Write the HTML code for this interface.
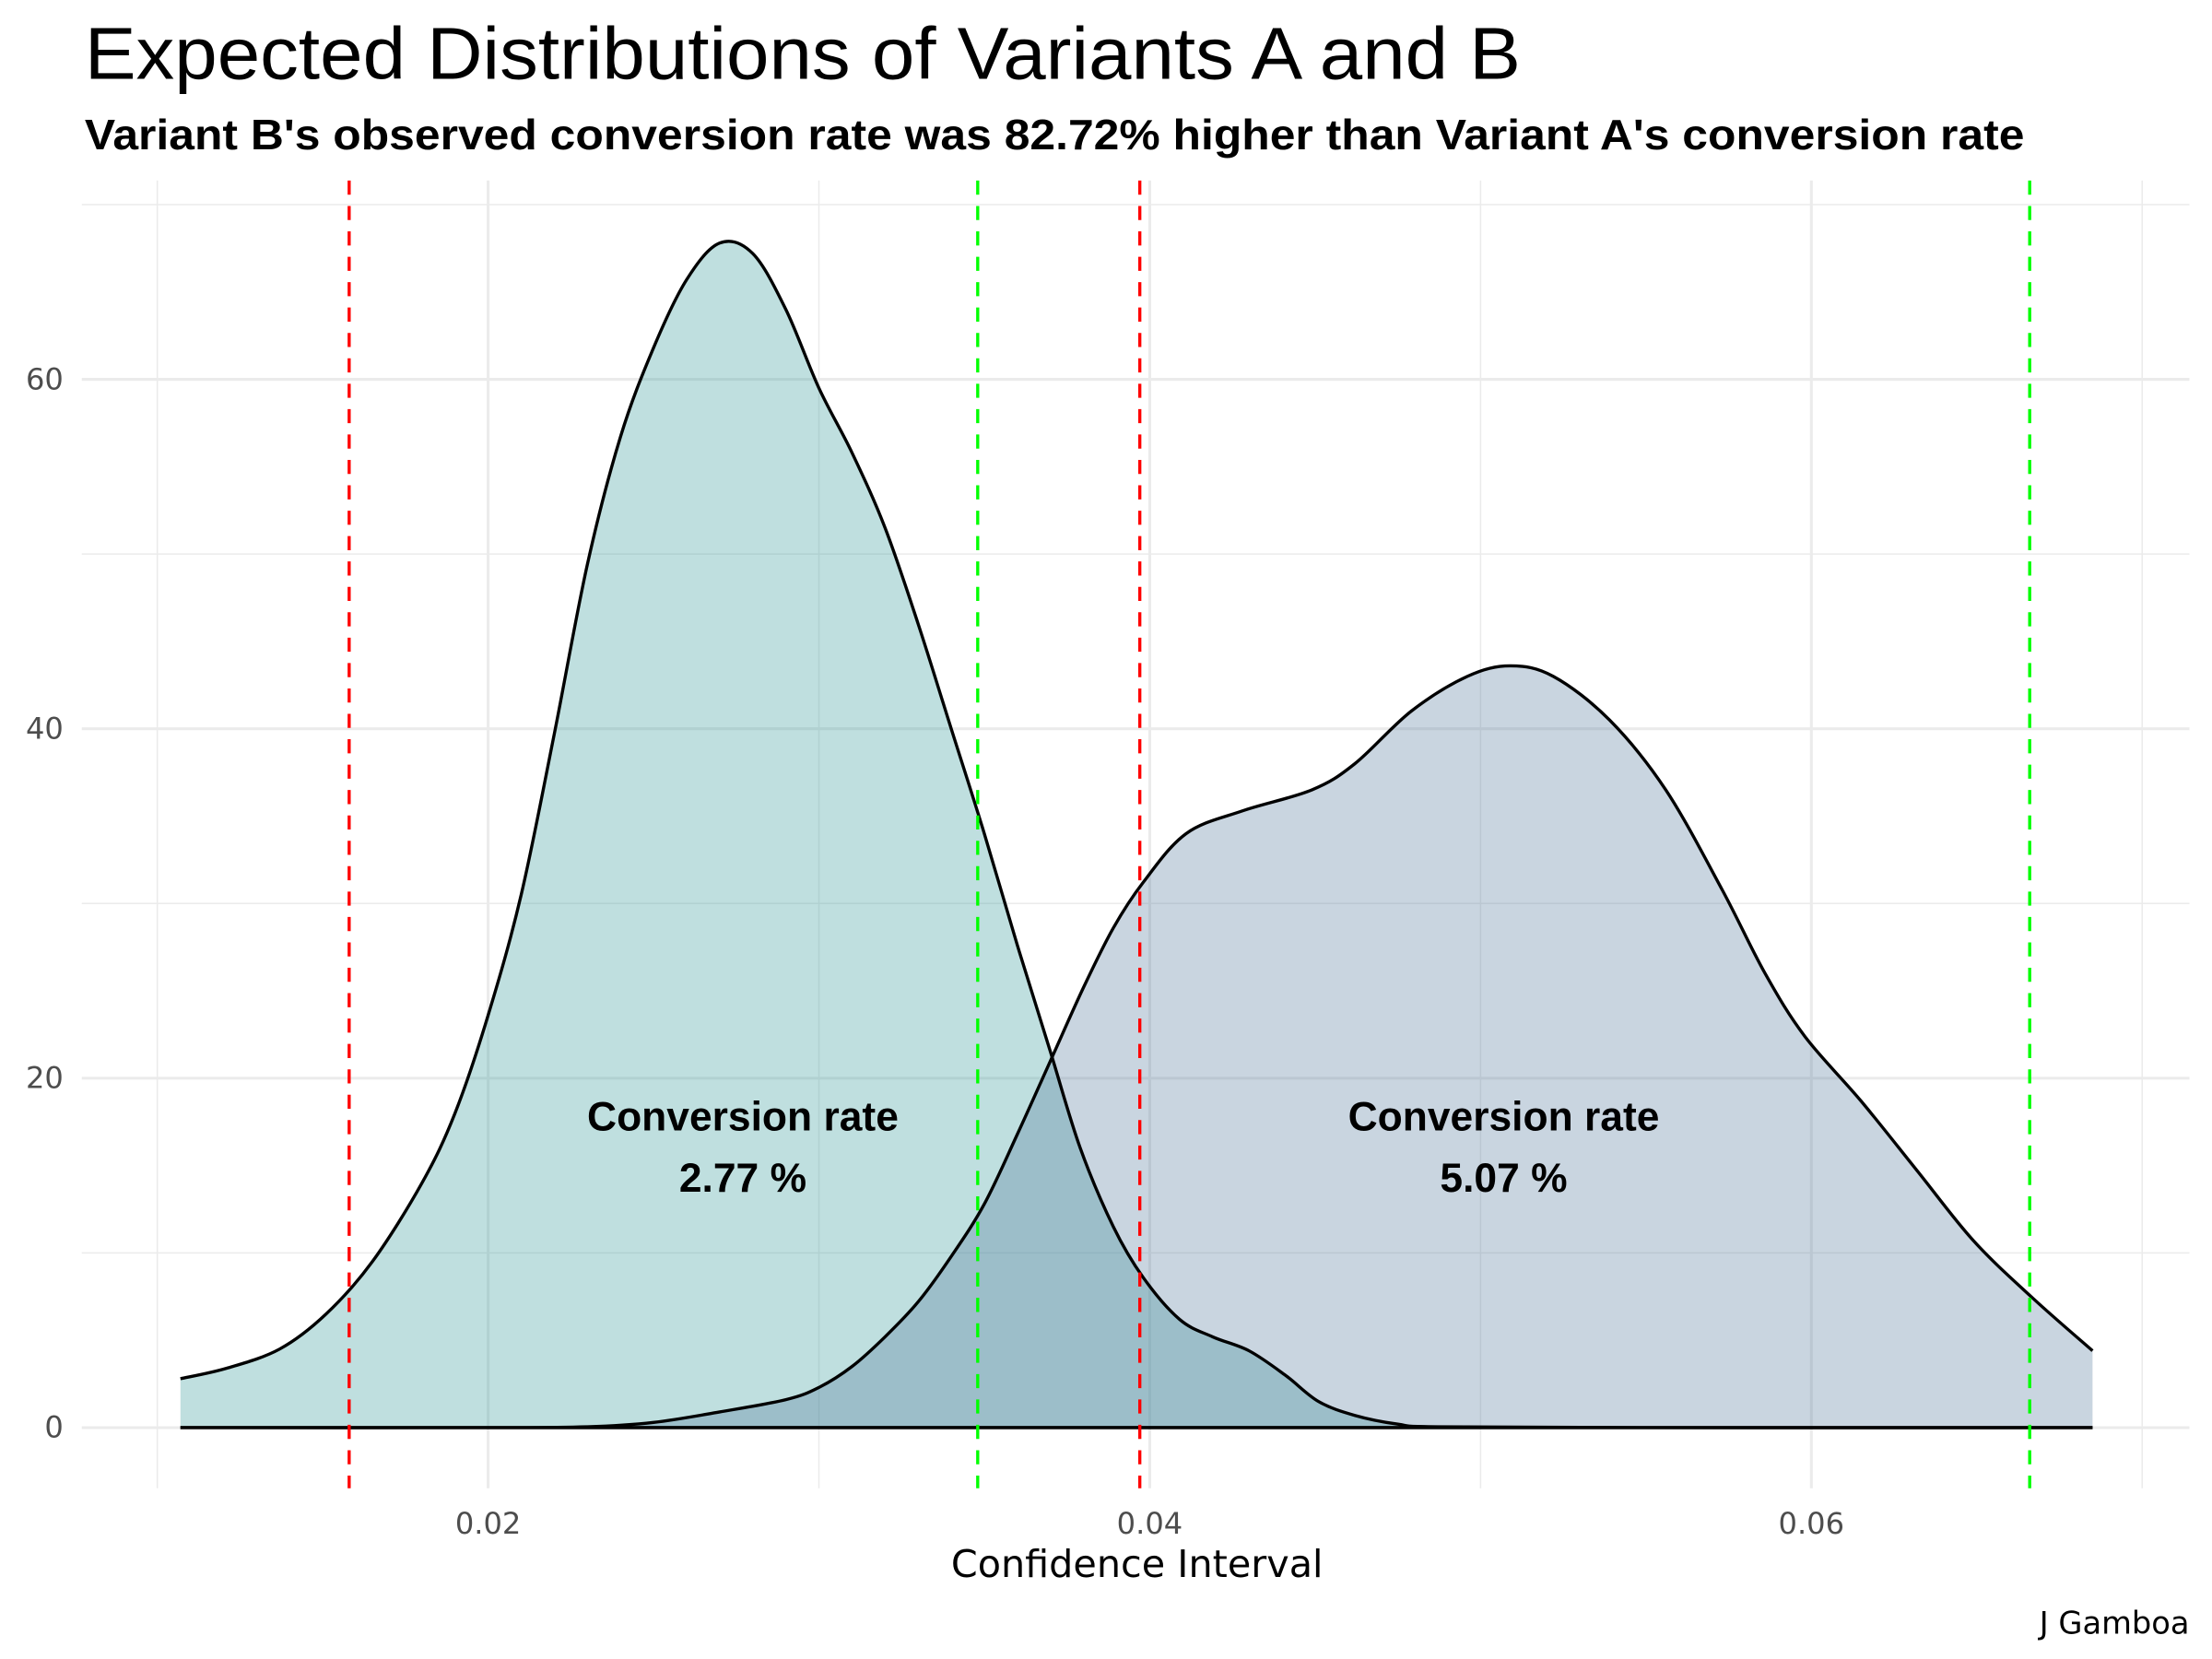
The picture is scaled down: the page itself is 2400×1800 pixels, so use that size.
<!DOCTYPE html>
<html><head><meta charset="utf-8"><style>
html,body{margin:0;padding:0;background:#fff;}
svg{display:block;}
.t{font-family:"Liberation Sans",sans-serif;}
.d{font-family:"DejaVu Sans","Liberation Sans",sans-serif;}
</style></head><body>
<svg id="chart" width="2400" height="1800" viewBox="0 0 1568 1176" xmlns="http://www.w3.org/2000/svg">
<rect width="1568" height="1176" fill="#fff"/>
<g id="grid"></g>
<g id="marks"></g>
<g id="axes"></g>
<text class="t" x="60" y="56" font-size="52" textLength="1018" lengthAdjust="spacingAndGlyphs">Expected Distributions of Variants A and B</text>
<text class="t" x="60" y="106" font-size="30" font-weight="bold" textLength="1375" lengthAdjust="spacingAndGlyphs">Variant B's observed conversion rate was 82.72% higher than Variant A's conversion rate</text>
<text class="d" x="806" y="1118" font-size="27" text-anchor="middle">Confidence Interval</text>
<text class="d" x="1552" y="1158" font-size="22" text-anchor="end">J Gamboa</text>
</svg>
<script>
const xTicks = [0.02, 0.04, 0.06];
const xMinor = [0.01, 0.03, 0.05, 0.07];
const yTicks = [0, 20, 40, 60];
const yMinor = [10, 30, 50, 70];
const xA = [0.0107,0.0121,0.0137,0.0151,0.0165,0.018,0.019,0.020,0.021,0.022,0.023,0.024,0.025,0.026,0.027,0.028,0.029,0.030,0.031,0.032,0.033,0.034,0.035,0.036,0.037,0.0379,0.0389,0.0398,0.0409,0.0419,0.0430,0.0441,0.0451,0.0462,0.0475,0.0487,0.055,0.0685];
const yA = [2.8,3.4,4.5,6.5,9.5,14,18,23.6,30.5,39.7,49.4,56.7,61.8,65.7,67.8,67.2,64,59.5,55.8,51.5,46,40,34,27.6,21.5,16,11.5,8.6,6.2,5.2,4.4,3,1.5,0.7,0.2,0.05,0,0];
const xB = [0.0107,0.020,0.023,0.025,0.027,0.029,0.030,0.031,0.032,0.033,0.034,0.035,0.036,0.037,0.038,0.0389,0.0398,0.0411,0.0428,0.0449,0.0462,0.0479,0.0496,0.0509,0.0522,0.0539,0.0556,0.0573,0.0586,0.0598,0.0615,0.0632,0.0649,0.0667,0.0685];
const yB = [0,0,0.05,0.3,0.9,1.6,2.3,3.5,5.2,7.2,9.8,12.8,16.8,21,25.2,28.6,31.2,34,35.3,36.5,38,41,43,43.6,43,40.5,36.5,30.8,26,22.4,18.7,14.7,10.7,7.4,4.4];
const redLines = [0.0158, 0.0397];
const greenLines = [0.0348, 0.0666];
const labels = [{x:0.0277, t1:"Conversion rate", t2:"2.77 %"},{x:0.0507, t1:"Conversion rate", t2:"5.07 %"}];
const labelY1 = 17.5, labelY2 = 14;

const NS="http://www.w3.org/2000/svg";
const X = v => 346 + (v-0.02)*23450;
const Y = v => 1012 - v*12.385;
function mk(tag, attrs, parent){const e=document.createElementNS(NS,tag);for(const k in attrs)e.setAttribute(k,attrs[k]);parent.appendChild(e);return e;}
const grid=document.getElementById('grid'), marks=document.getElementById('marks'), axes=document.getElementById('axes');
const PL=58, PR=1552, PT=128, PB=1055;
xMinor.forEach(v=>{const l=mk('line',{x1:X(v),x2:X(v),y1:PT,y2:PB,stroke:'#ebebeb','stroke-width':1},grid);

});
yMinor.forEach(v=>{const l=mk('line',{x1:PL,x2:PR,y1:Y(v),y2:Y(v),stroke:'#ebebeb','stroke-width':1},grid);

});
xTicks.forEach(v=>{const l=mk('line',{x1:X(v),x2:X(v),y1:PT,y2:PB,stroke:'#ebebeb','stroke-width':2},grid);


const t=mk('text',{x:X(v),y:1087,'font-size':21,'text-anchor':'middle',fill:'#4d4d4d',class:'d'},axes);t.textContent=String(v);

});
yTicks.forEach(v=>{const l=mk('line',{x1:PL,x2:PR,y1:Y(v),y2:Y(v),stroke:'#ebebeb','stroke-width':2},grid);


const t=mk('text',{x:45,y:Y(v)+7,'font-size':21,'text-anchor':'end',fill:'#4d4d4d',class:'d'},axes);t.textContent=String(v);

});
function smooth(xs,ys){const p=xs.map((x,i)=>[X(x),Y(ys[i])]);let d='M'+p[0][0]+','+p[0][1];
for(let i=0;i<p.length-1;i++){const p0=p[i-1]||p[i],p1=p[i],p2=p[i+1],p3=p[i+2]||p2;
const c1=[p1[0]+(p2[0]-p0[0])/6,p1[1]+(p2[1]-p0[1])/6],c2=[p2[0]-(p3[0]-p1[0])/6,p2[1]-(p3[1]-p1[1])/6];
d+=` C${c1[0]},${c1[1]} ${c2[0]},${c2[1]} ${p2[0]},${p2[1]}`;}return d;}
function area(xs,ys,fill,name){const line=smooth(xs,ys);
const a=mk('path',{d:line+` L${X(xs[xs.length-1])},${Y(0)} L${X(xs[0])},${Y(0)} Z`,fill:fill,'fill-opacity':0.3,stroke:'none'},marks);


return line;}
const lA=area(xA,yA,'#2a9494','variant-a');
const lB=area(xB,yB,'#4b7398','variant-b');
[[lA,xA],[lB,xB]].forEach((o,i)=>{const p=mk('path',{d:o[0]+` M${X(o[1][0])},${Y(0)} L${X(o[1][o[1].length-1])},${Y(0)}`,fill:'none',stroke:'#000','stroke-width':2.2},marks);

});
redLines.forEach(v=>{const l=mk('line',{x1:X(v),x2:X(v),y1:PT,y2:PB,stroke:'#ff0000','stroke-width':2.2,'stroke-dasharray':'10,8'},marks);

});
greenLines.forEach(v=>{const l=mk('line',{x1:X(v),x2:X(v),y1:PT,y2:PB,stroke:'#00ff00','stroke-width':2.2,'stroke-dasharray':'10,8'},marks);

});
labels.forEach(o=>{const t=mk('text',{x:X(o.x),y:Y(labelY1)+6,'font-size':29,'font-weight':'bold','text-anchor':'middle',class:'t'},marks);t.textContent=o.t1;


const t2=mk('text',{x:X(o.x),y:Y(labelY2)+6,'font-size':29,'font-weight':'bold','text-anchor':'middle',class:'t'},marks);t2.textContent=o.t2;

});
</script>
</body></html>
